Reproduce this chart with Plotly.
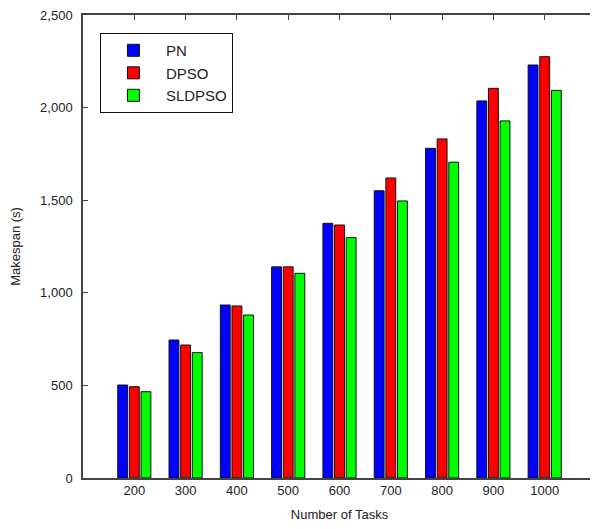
import plotly.graph_objects as go

tasks = ["200", "300", "400", "500", "600", "700", "800", "900", "1000"]
pn = [502, 745, 934, 1140, 1375, 1551, 1780, 2036, 2230]
dpso = [493, 718, 929, 1140, 1366, 1620, 1831, 2104, 2275]
sldpso = [466, 677, 880, 1105, 1298, 1496, 1705, 1928, 2093]

series = [("PN", pn, "#0000ff"), ("DPSO", dpso, "#ff0000"), ("SLDPSO", sldpso, "#00ff00")]

fig = go.Figure()
for name, vals, col in series:
    fig.add_trace(go.Bar(
        x=tasks, y=vals, name=name,
        marker=dict(color=col, line=dict(color="#111111", width=1)),
    ))

axis_common = dict(
    showline=True, linecolor="#444444", linewidth=1.5, mirror="ticks",
    ticks="inside", tickcolor="#444444", ticklen=5, tickwidth=1,
    showgrid=False, zeroline=False,
    tickfont=dict(family="Liberation Sans, Arial, sans-serif", size=13, color="#222222"),
    title_font=dict(family="Liberation Sans, Arial, sans-serif", size=13, color="#222222"),
)

fig.update_layout(
    width=590, height=521,
    margin=dict(l=75, r=0, t=7, b=51),
    paper_bgcolor="white", plot_bgcolor="white",
    barmode="group", bargap=0.32, bargroupgap=0.15,
    font=dict(family="Liberation Sans, Arial, sans-serif", color="#222222"),
    legend=dict(
        x=0.033, y=0.961, xanchor="left", yanchor="top",
        bordercolor="#111111", borderwidth=1, bgcolor="white",
        font=dict(size=15, color="#222222"),
        itemwidth=55, tracegroupgap=0,
    ),
    showlegend=True,
)
fig.update_xaxes(range=[-1, 9], title_text="Number of Tasks", title_standoff=13,
                 ticklabeloverflow="allow", **axis_common)
fig.update_yaxes(range=[0, 2500], dtick=500, tickformat=",", ticklabelstandoff=6,
                 ticklabeloverflow="allow",
                 title_text="Makespan (s)", title_standoff=22, **axis_common)

fig.write_html("out.html")
